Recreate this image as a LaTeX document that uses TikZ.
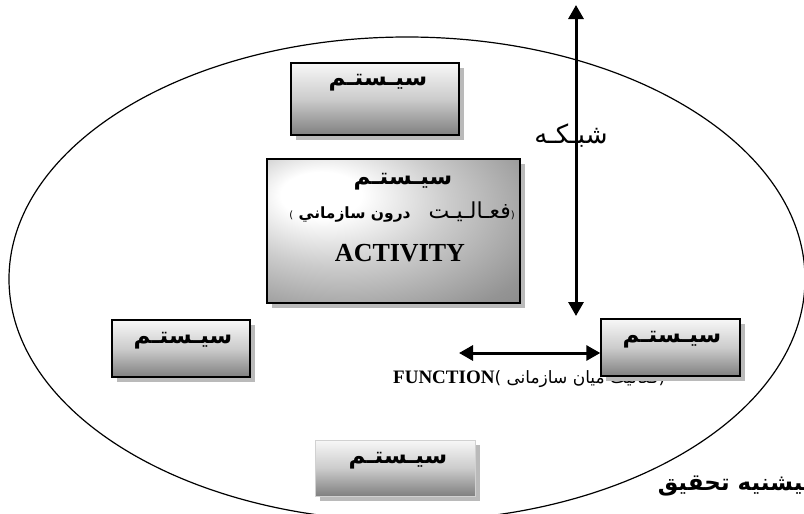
\documentclass[tikz,border=0pt]{standalone}
\usepackage{fontspec}
\setmainfont{Liberation Serif}
\newfontfamily\arabicfont[Script=Arabic]{DejaVu Sans}
\TeXXeTstate=1
\usetikzlibrary{arrows.meta,shadows}
\pgfdeclareradialshading{bigglow}{\pgfpoint{-16bp}{14bp}}{color(0bp)=(white); color(8bp)=(white); color(22bp)=(black!20); color(40bp)=(black!42); color(55bp)=(black!52); color(75bp)=(black!56)}
\begin{document}
\begin{tikzpicture}[x=1pt,y=-1pt,
  shadowed/.style={drop shadow={shadow xshift=5pt,shadow yshift=-5pt,fill=black!27,opacity=1}},
  sysbox/.style={draw=black,line width=1.4pt,inner sep=0pt,top color=black!3,bottom color=black!50,middle color=black!20,shadowed},
  paleb/.style={draw=black!18,line width=1pt,inner sep=0pt,top color=black!3,bottom color=black!50,middle color=black!20,shadowed},
  bigbox/.style={draw=black,line width=1.4pt,inner sep=0pt,shade,shading=bigglow,shadowed},
  boxtxt/.style={inner sep=0pt,font=\arabicfont\bfseries\fontsize{23}{26}\selectfont},
  bigarrow/.style={line width=3pt,{Triangle[width=15pt,length=14pt]}-{Triangle[width=15pt,length=14pt]}},
  envline/.style={line width=1.2pt}]
\useasboundingbox (0,0) rectangle (804,514);
\clip (0,0) rectangle (804,514);
\fill[white] (0,0) rectangle (804,514);
% environment
\draw[envline] (407,279) ellipse [x radius=398, y radius=242];
% network arrow
\coordinate (nt) at (576,5);
\coordinate (nb) at (576,316);
\draw[bigarrow] (nt) -- (nb);
\node[inner sep=0pt,font=\arabicfont\fontsize{26}{30}\selectfont] (net) at (571,136) {\beginR شبـكـه\endR};
% function label (under the right box)
\node[anchor=base west,inner sep=0pt] (func) at (393,383)
  {\arabicfont\fontsize{17}{20}\selectfont\beginR (فعاليت ميان سازمانی )\beginL\rmfamily\bfseries\fontsize{19}{22}\selectfont FUNCTION\endL\endR};
% boxes
\node[sysbox,minimum width=168pt,minimum height=72pt] (top) at (375,99) {};
\node[bigbox,minimum width=253pt,minimum height=144pt] (core) at (393.5,231) {};
\node[sysbox,minimum width=138pt,minimum height=57pt] (lb) at (181,348.5) {};
\node[sysbox,minimum width=139pt,minimum height=57pt] (rb) at (670.5,347.5) {};
\node[paleb,minimum width=160pt,minimum height=56pt] (bb) at (395,468) {};
% function arrow
\coordinate (fl) at (459,353);
\draw[bigarrow] (fl) -- (fl -| rb.west);
% box texts
\node[boxtxt] (ttop) at (378,83) {\beginR سيـستـم\endR};
\node[boxtxt] (tlb) at (183,341) {\beginR سيـستـم\endR};
\node[boxtxt] (trb) at (672,340) {\beginR سيـستـم\endR};
\node[boxtxt] (tbb) at (398,461) {\beginR سيـستـم\endR};
\node[boxtxt] (tc1) at (403,182) {\beginR سيـستـم\endR};
\node[inner sep=0pt] (tc2) at (402,212)
  {\arabicfont\beginR ({\fontsize{22}{24}\selectfont فعـالـيـت}\hspace{18pt}{\bfseries\fontsize{15.5}{18}\selectfont درون سازماني })\endR};
\node[inner sep=0pt,font=\bfseries\fontsize{26}{29}\selectfont] (tc3) at (400,253) {ACTIVITY};
% research background label
\node[anchor=east,inner sep=0pt,font=\arabicfont\bfseries\fontsize{23}{27}\selectfont] (hist) at (812,486) {\beginR پيشنيه تحقيق\endR};
\end{tikzpicture}
\end{document}
